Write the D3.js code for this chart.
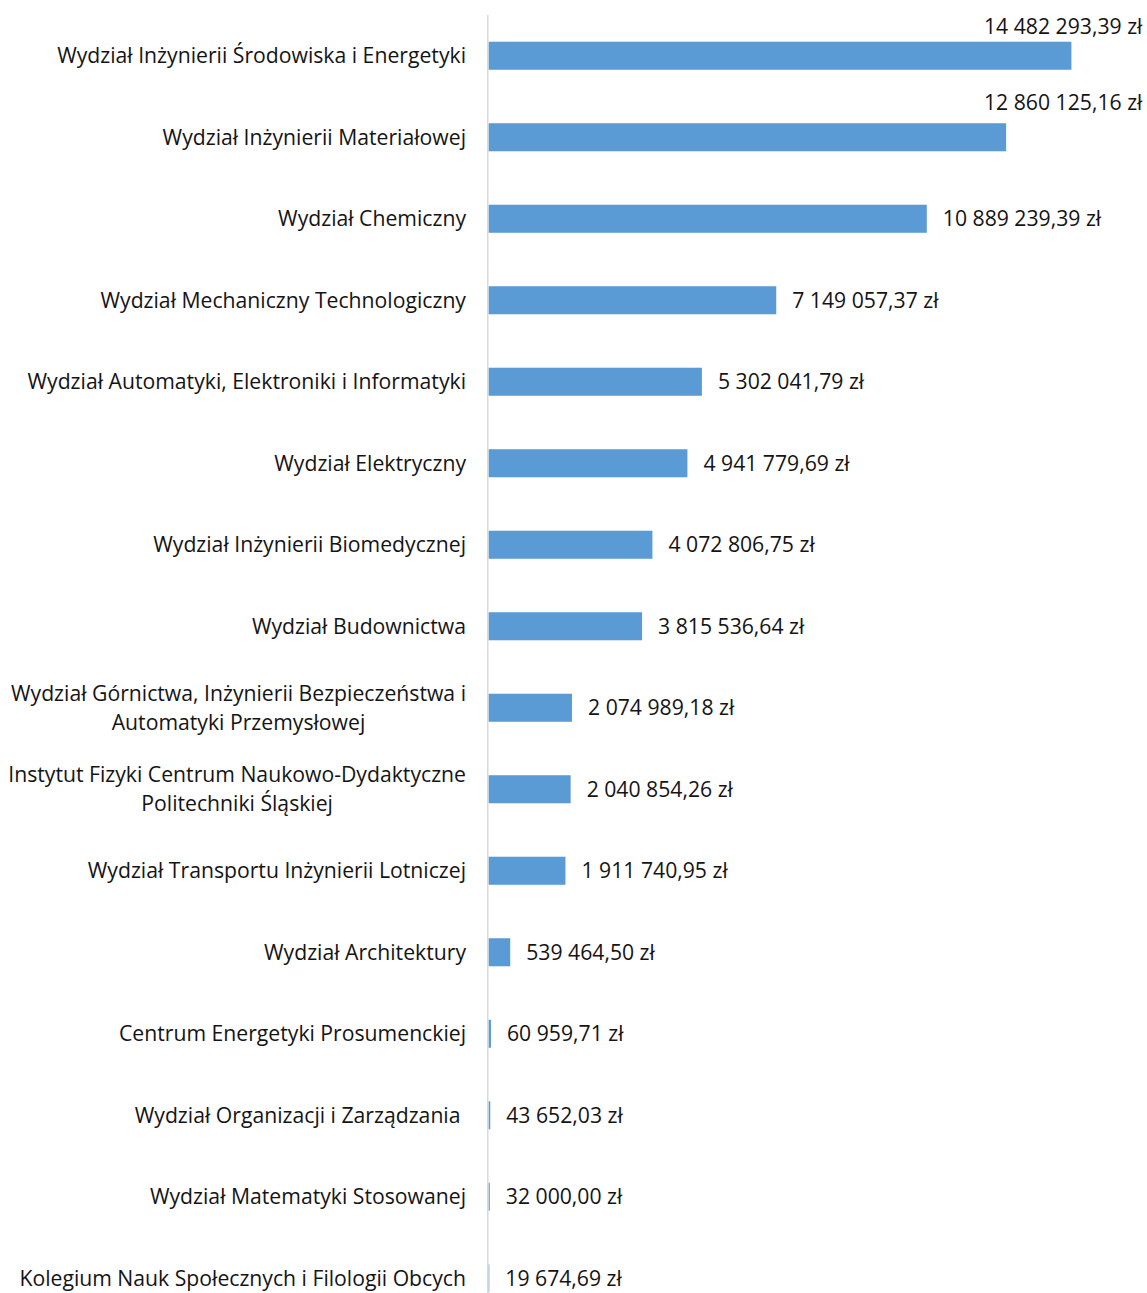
<!DOCTYPE html>
<html lang="pl">
<head>
<meta charset="utf-8">
<script src="https://cdn.jsdelivr.net/npm/d3@7"></script>
<style>
  html, body { margin: 0; padding: 0; background: #fff; overflow: hidden; }
  svg { display: block; }
  text { font-family: "Open Sans", "DejaVu Sans", sans-serif; fill: #141414; white-space: pre; }
</style>
</head>
<body>
<script>
// Funding per faculty (zł), sorted from largest to smallest
const units = [
  "Wydział Inżynierii Środowiska i Energetyki",
  "Wydział Inżynierii Materiałowej",
  "Wydział Chemiczny",
  "Wydział Mechaniczny Technologiczny",
  "Wydział Automatyki, Elektroniki i Informatyki",
  "Wydział Elektryczny",
  "Wydział Inżynierii Biomedycznej",
  "Wydział Budownictwa",
  "Wydział Górnictwa, Inżynierii Bezpieczeństwa i\nAutomatyki Przemysłowej",
  "Instytut Fizyki Centrum Naukowo-Dydaktyczne\nPolitechniki Śląskiej",
  "Wydział Transportu Inżynierii Lotniczej",
  "Wydział Architektury",
  "Centrum Energetyki Prosumenckiej",
  "Wydział Organizacji i Zarządzania ",
  "Wydział Matematyki Stosowanej",
  "Kolegium Nauk Społecznych i Filologii Obcych"
];
const amounts = [
  14482293.39, 12860125.16, 10889239.39, 7149057.37,
  5302041.79, 4941779.69, 4072806.75, 3815536.64,
  2074989.18, 2040854.26, 1911740.95, 539464.50,
  60959.71, 43652.03, 32000.00, 19674.69
];
const axisMax = 16000000;

const W = 1147, H = 1293;
const FS = 21.2;
const plLocale = d3.formatLocale({ decimal: ",", thousands: " ", grouping: [3], currency: ["", " zł"] });
const fmt = v => plLocale.format(",.2f")(v) + " zł";

const svg = d3.select("body").append("svg").attr("width", W).attr("height", H);

const x = d3.scaleLinear().domain([0, axisMax]).range([488.5, 1132.5]);
const y = d3.scaleBand().domain(units).range([15, 1319]).paddingInner(0.656).paddingOuter(0.328);

const rows = units.map((u, i) => ({ unit: u, value: amounts[i], i }));

// bars
svg.append("g").selectAll("rect").data(rows).join("rect")
  .attr("x", x(0))
  .attr("y", d => y(d.unit))
  .attr("width", d => x(d.value) - x(0))
  .attr("height", y.bandwidth())
  .attr("fill", "#5B9BD5");

// vertical category axis line
svg.append("line")
  .attr("x1", 487.75).attr("x2", 487.75)
  .attr("y1", 15).attr("y2", 1319)
  .attr("stroke", "#d9d9d9").attr("stroke-width", 1.5);

// category labels: block right-aligned to the axis, wrapped lines centred within it
const lineH = 29;
const labelRight = 466;
const cat = svg.append("g").attr("font-size", FS);
rows.forEach(d => {
  const lines = d.unit.split("\n");
  const cy = y(d.unit) + y.bandwidth() / 2;
  const t = cat.append("text");
  if (lines.length === 1) {
    t.attr("text-anchor", "end").attr("x", labelRight).attr("y", cy).attr("dy", "0.35em").text(lines[0]);
    return;
  }
  const spans = lines.map((ln, k) => t.append("tspan")
    .attr("y", cy + (k - (lines.length - 1) / 2) * lineH)
    .attr("dy", "0.35em")
    .text(ln));
  const maxW = d3.max(spans, s => s.node().getComputedTextLength());
  t.attr("text-anchor", "middle");
  spans.forEach(s => s.attr("x", labelRight - maxW / 2));
});

// value labels: right of the bar, or above it when there is no room
const val = svg.append("g").attr("font-size", FS);
rows.forEach(d => {
  const cy = y(d.unit) + y.bandwidth() / 2;
  const end = x(d.value);
  const t = val.append("text").text(fmt(d.value)).attr("dy", "0.35em");
  const w = t.node().getComputedTextLength();
  if (end + 16 + w > W - 20) {
    t.attr("x", 984).attr("y", cy - (d.i === 0 ? 29 : 35));
  } else {
    t.attr("x", end + 16).attr("y", cy);
  }
});
</script>
</body>
</html>
